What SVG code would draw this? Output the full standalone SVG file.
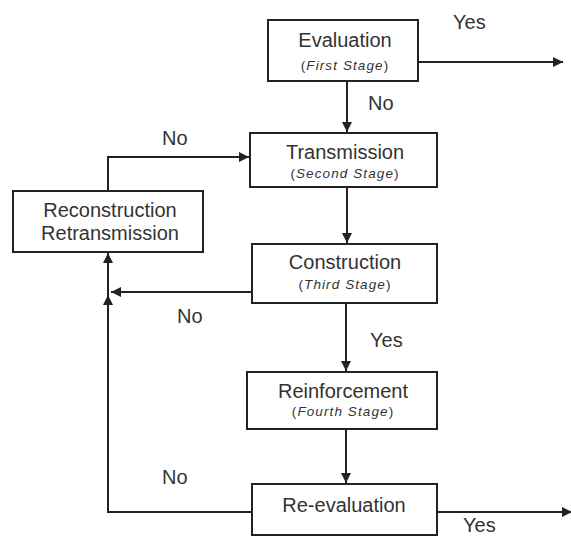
<svg xmlns="http://www.w3.org/2000/svg" width="571" height="536" viewBox="0 0 571 536">
<style>
.box{fill:#fff;stroke:#222;stroke-width:2}
.t{font-family:"Liberation Sans",Arial,sans-serif;font-size:20px;fill:#333;text-anchor:middle}
.s{font-family:"Liberation Sans",Arial,sans-serif;font-size:13.5px;fill:#333;text-anchor:middle;letter-spacing:1.1px}
.s tspan.i{font-style:italic}
.c{fill:none;stroke:#222;stroke-width:2}
.lbl{font-family:"Liberation Sans",Arial,sans-serif;font-size:20px;fill:#333}
</style>
<defs>
<marker id="ah" markerWidth="10" markerHeight="10" refX="10" refY="5" orient="auto" markerUnits="userSpaceOnUse">
<path d="M0,0 L10,5 L0,10 Z" fill="#222"/>
</marker>
</defs>
<rect width="571" height="536" fill="#fff"/>
<g id="connectors">
<line class="c" x1="347" y1="81" x2="347" y2="132" marker-end="url(#ah)"/>
<line class="c" x1="418" y1="62" x2="563" y2="62" marker-end="url(#ah)"/>
<polyline class="c" points="108,191 108,157 249,157" marker-end="url(#ah)"/>
<line class="c" x1="347" y1="187" x2="347" y2="243" marker-end="url(#ah)"/>
<line class="c" x1="252" y1="292" x2="111" y2="292" marker-end="url(#ah)"/>
<line class="c" x1="346" y1="303" x2="346" y2="371" marker-end="url(#ah)"/>
<line class="c" x1="346" y1="429" x2="346" y2="483" marker-end="url(#ah)"/>
<polyline class="c" points="252,512 108,512 108,295" marker-end="url(#ah)"/>
<line class="c" x1="108" y1="295" x2="108" y2="253" marker-end="url(#ah)"/>
<line class="c" x1="437" y1="512" x2="572" y2="512" marker-end="url(#ah)"/>
<text class="lbl" x="453" y="29">Yes</text>
<text class="lbl" x="368" y="110">No</text>
<text class="lbl" x="162" y="145">No</text>
<text class="lbl" x="177" y="323">No</text>
<text class="lbl" x="370" y="347">Yes</text>
<text class="lbl" x="162" y="484">No</text>
<text class="lbl" x="463" y="532">Yes</text>
</g>
<g id="evaluation">
<rect class="box" x="268" y="20" width="150" height="61"/>
<text class="t" x="345" y="47">Evaluation</text>
<text class="s" x="345" y="70">(<tspan class="i">First Stage</tspan>)</text>
</g>
<g id="transmission">
<rect class="box" x="250" y="133" width="187" height="54"/>
<text class="t" x="345" y="159">Transmission</text>
<text class="s" x="345" y="178">(<tspan class="i">Second Stage</tspan>)</text>
</g>
<g id="reconstruction">
<rect class="box" x="13" y="191" width="190" height="61"/>
<text class="t" x="110" y="217">Reconstruction</text>
<text class="t" x="110" y="240">Retransmission</text>
</g>
<g id="construction">
<rect class="box" x="252" y="244" width="185" height="59"/>
<text class="t" x="345" y="269">Construction</text>
<text class="s" x="345" y="289">(<tspan class="i">Third Stage</tspan>)</text>
</g>
<g id="reinforcement">
<rect class="box" x="247" y="372" width="190" height="57"/>
<text class="t" x="343" y="398">Reinforcement</text>
<text class="s" x="343" y="416">(<tspan class="i">Fourth Stage</tspan>)</text>
</g>
<g id="reevaluation">
<rect class="box" x="252" y="484" width="185" height="51"/>
<text class="t" x="344" y="512">Re-evaluation</text>
</g>
</svg>
